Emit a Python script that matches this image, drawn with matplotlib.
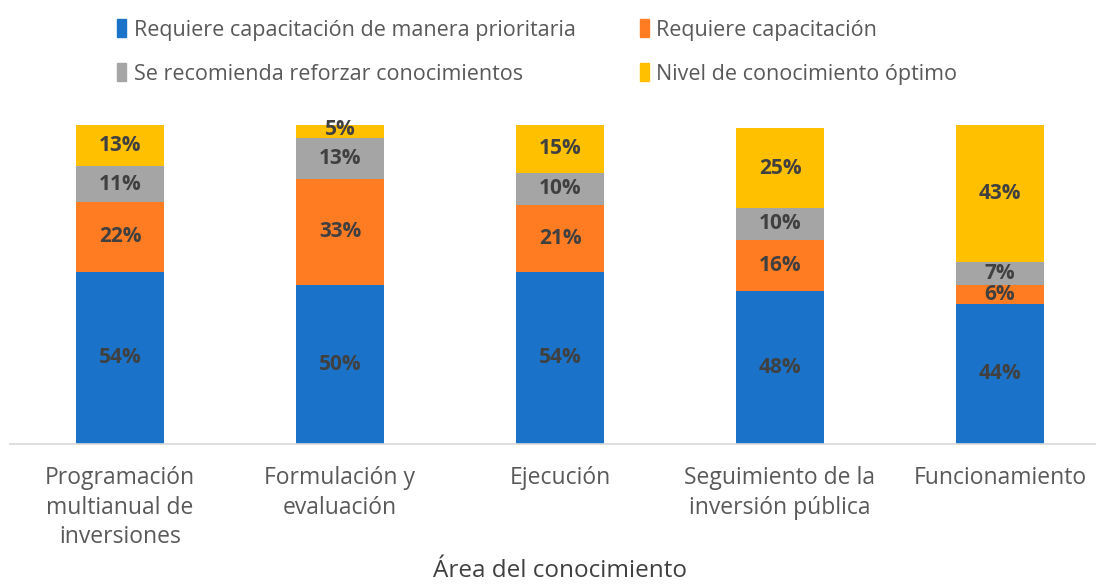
import matplotlib
matplotlib.use("Agg")
import matplotlib.pyplot as plt
from matplotlib.patches import Rectangle
import numpy as np

plt.rcParams['font.family'] = ['Open Sans', 'DejaVu Sans']

categories = ["Programación\nmultianual de\ninversiones", "Formulación y\nevaluación",
              "Ejecución", "Seguimiento de la\ninversión pública", "Funcionamiento"]
series_names = ["Requiere capacitación de manera prioritaria", "Requiere capacitación",
                "Se recomienda reforzar conocimientos", "Nivel de conocimiento óptimo"]
prioritaria = [54, 50, 54, 48, 44]
capacitacion = [22, 33, 21, 16, 6]
reforzar = [11, 13, 10, 10, 7]
optimo = [13, 5, 15, 25, 43]
colors = ["#1A73C8", "#FF7C23", "#A5A5A5", "#FFC000"]
x_title = "Área del conocimiento"

W, H = 1096, 585
fig = plt.figure(figsize=(W / 100, H / 100), dpi=100)
ax = fig.add_axes([10 / W, 141 / H, 1100 / W, 319 / H])

x = np.arange(len(categories))
bottom = np.zeros(len(categories))
handles = []
for vals, col, name in zip([prioritaria, capacitacion, reforzar, optimo], colors, series_names):
    vals = np.array(vals, dtype=float)
    ax.bar(x, vals, width=0.4, bottom=bottom, color=col, label=name, zorder=2)
    for xi, b, v in zip(x, bottom, vals):
        ax.text(xi, b + v / 2, f"{int(v)}%", ha="center", va="center",
                fontsize=15, fontweight="bold", color="#404040", zorder=3)
    bottom += vals
    handles.append(Rectangle((0, 0), 1, 1, color=col))

ax.set_xlim(-0.5, 4.5)
ax.set_ylim(0, 100)
for s in ["top", "right", "left"]:
    ax.spines[s].set_visible(False)
ax.spines["bottom"].set_color("#D9D9D9")
ax.spines["bottom"].set_linewidth(1.2)
ax.set_yticks([])
ax.set_xticks(x)
ax.set_xticklabels(categories, fontsize=16.5, color="#595959", linespacing=1.3)
ax.tick_params(axis="x", length=0, pad=16)
fig.text(560 / W, 1 - 571 / H, x_title, ha="center", va="center", fontsize=17.5, color="#404040")

order = [0, 2, 1, 3]
leg = fig.legend([handles[i] for i in order], [series_names[i] for i in order],
                 loc="upper left", bbox_to_anchor=(98 / W, 1 - 0 / H),
                 ncol=2, frameon=False, fontsize=15.5, labelcolor="#595959",
                 handlelength=0.4, handleheight=0.9, handletextpad=0.35,
                 columnspacing=3.0, labelspacing=1.05)

fig.savefig("out.png", dpi=100)
